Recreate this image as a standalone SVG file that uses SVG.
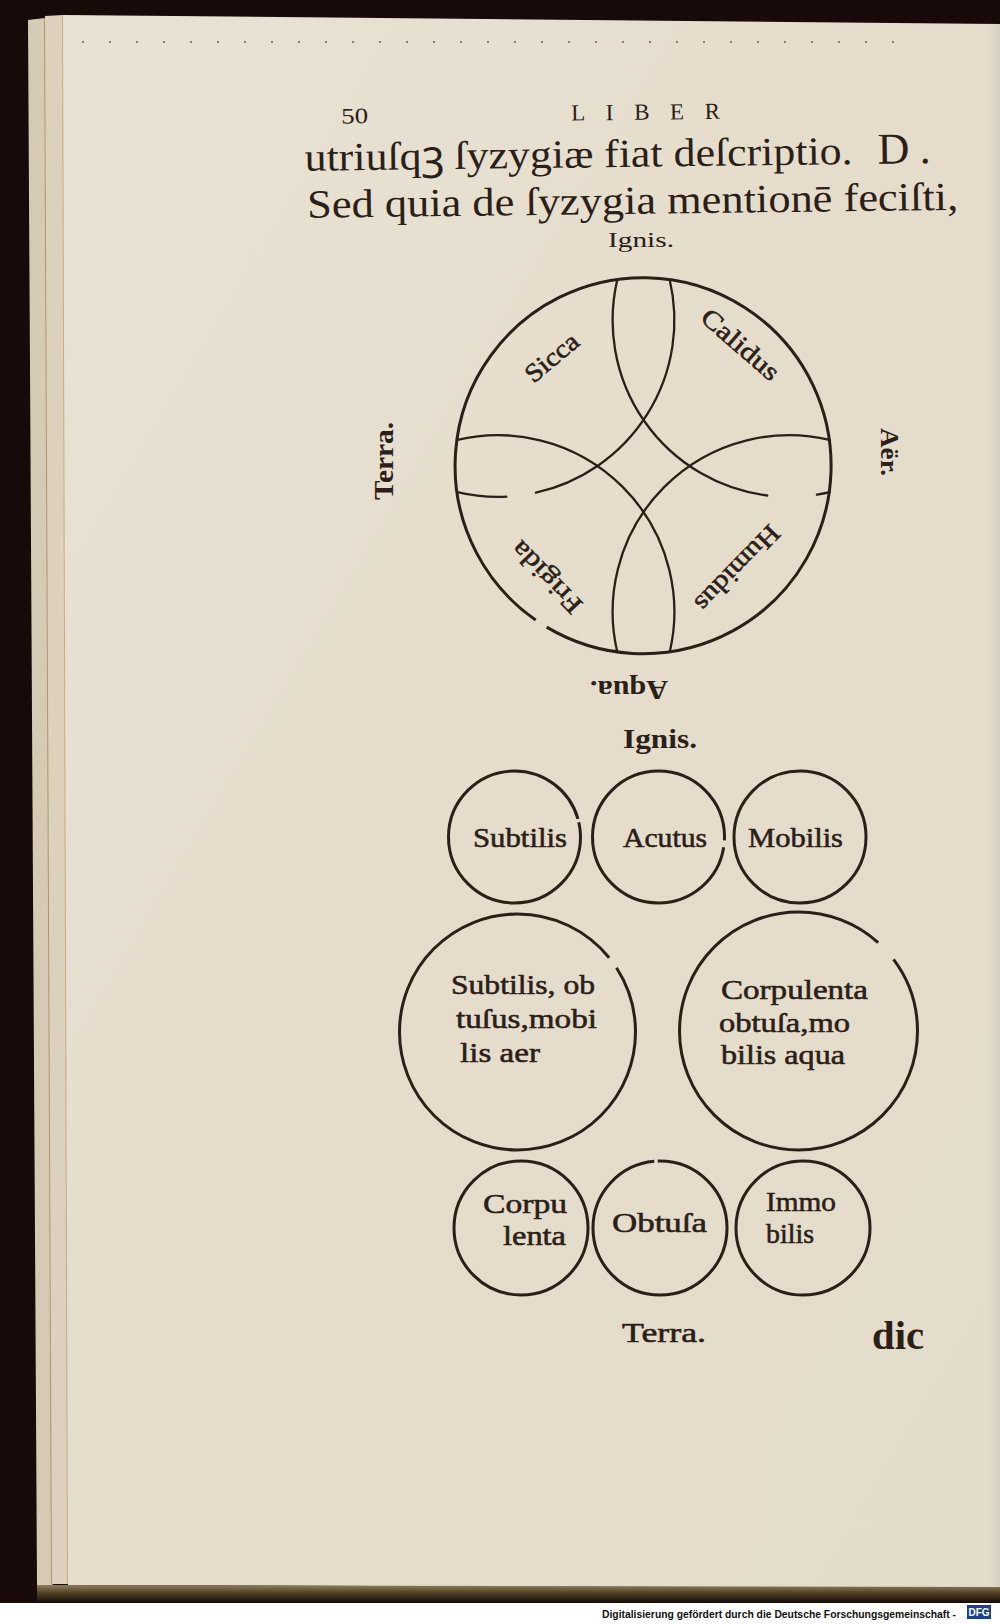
<svg xmlns="http://www.w3.org/2000/svg" width="1000" height="1624" viewBox="0 0 1000 1624">
<defs>
<linearGradient id="paper" x1="0" y1="0" x2="1" y2="1">
<stop offset="0" stop-color="#e9e2d3"/>
<stop offset="0.5" stop-color="#e5dccb"/>
<stop offset="1" stop-color="#e4dccb"/>
</linearGradient>
<linearGradient id="bottomEdge" x1="0" y1="0" x2="0" y2="1">
<stop offset="0" stop-color="#8f805c"/>
<stop offset="0.45" stop-color="#4d4024"/>
<stop offset="1" stop-color="#140906"/>
</linearGradient>
<linearGradient id="rightEdge" x1="0" y1="0" x2="1" y2="0">
<stop offset="0" stop-color="#e6ddcb" stop-opacity="0"/>
<stop offset="1" stop-color="#d4cfc3"/>
</linearGradient>
<style>
.ink{fill:none;stroke:#2a2017;stroke-width:3}
.arc{fill:none;stroke:#2a2017;stroke-width:2.3;stroke-linecap:round}
.t{font-family:"Liberation Serif","DejaVu Serif",serif;fill:#2a2017}
.lb{font-family:"Liberation Serif","DejaVu Serif",serif;fill:#2a2017;stroke:#2a2017;stroke-width:0.55}
.bd{font-weight:bold}
.foot{font-family:"Liberation Sans",Arial,sans-serif;font-weight:bold;fill:#111}
</style>
</defs>
<g id="page">
<rect width="1000" height="1624" fill="#180a08"/>
<polygon points="28,20 45,18 52,1586 37,1586" fill="#d5cbb5"/>
<line x1="45" y1="18" x2="52" y2="1585" stroke="#ab9674" stroke-width="2"/>
<polygon points="45,16 63,15 68,1584 52,1584" fill="#dbd1bc"/>
<line x1="63" y1="15" x2="68" y2="1584" stroke="#c2ad8c" stroke-width="2"/>
<polygon points="63,15 1000,24 1000,1588 68,1585" fill="url(#paper)"/>
<rect x="984" y="24" width="16" height="1564" fill="url(#rightEdge)"/>
<polygon points="37,1585 1000,1587 1000,1603 37,1603" fill="url(#bottomEdge)"/>
<line x1="82" y1="42" x2="895" y2="42" stroke="#8d7d6a" stroke-width="2" stroke-dasharray="2 25"/>
<rect x="0" y="1603" width="1000" height="21" fill="#ffffff"/>
<text class="foot" x="602" y="1618" font-size="10" textLength="354" lengthAdjust="spacingAndGlyphs">Digitalisierung gefördert durch die Deutsche Forschungsgemeinschaft -</text>
<rect x="967" y="1605" width="24" height="14" fill="#1c3f94"/>
<text class="foot" x="979" y="1616" font-size="10" style="fill:#ffffff" text-anchor="middle">DFG</text>
</g>
<g id="header" transform="rotate(-0.7 620 190)">
<text class="t" x="342" y="120" font-size="22" textLength="27" lengthAdjust="spacingAndGlyphs">50</text>
<text class="t" x="572" y="120" font-size="23" textLength="149">LIBER</text>
<text class="t" x="305" y="167" font-size="40" textLength="548" lengthAdjust="spacingAndGlyphs">utriuſqꝫ ſyzygiæ fiat deſcriptio.</text>
<text class="t" x="878" y="167" font-size="44" textLength="53">D.</text>
<text class="t" x="307" y="214" font-size="40" textLength="651" lengthAdjust="spacingAndGlyphs">Sed quia de ſyzygia mentionē feciſti,</text>
</g>
<g id="syzygia-circle">
<text class="t" x="608" y="247" font-size="21" textLength="66" lengthAdjust="spacingAndGlyphs">Ignis.</text>
<path class="ink" d="M 535.7 620 A 188 188 0 1 1 546.7 627.1"/>
<g id="connectors">
<path class="arc" d="M 617.3 279.8 A 176.7 176.7 0 0 0 767.2 495.5"/>
<path class="arc" d="M 816.9 494.7 A 176.7 176.7 0 0 0 829.7 492.2"/>
<path class="arc" d="M 669.7 279.8 A 176.7 176.7 0 0 1 535.9 492.7"/>
<path class="arc" d="M 506.3 496.7 A 176.7 176.7 0 0 1 457.3 492.2"/>
<path class="arc" d="M 669.7 652.2 A 176.7 176.7 0 0 0 457.3 439.8"/>
<path class="arc" d="M 617.3 652.2 A 176.7 176.7 0 0 1 829.7 439.8"/>
</g>
<text class="lb" transform="translate(552,358) rotate(-40)" x="0" y="8" font-size="26" text-anchor="middle" textLength="62" lengthAdjust="spacingAndGlyphs">Sicca</text>
<text class="lb" transform="translate(740,345) rotate(41)" x="0" y="8" font-size="26" text-anchor="middle" textLength="95" lengthAdjust="spacingAndGlyphs">Calidus</text>
<text class="lb" transform="translate(737,568) rotate(134)" x="0" y="8" font-size="26" text-anchor="middle" textLength="110" lengthAdjust="spacingAndGlyphs">Humidus</text>
<text class="lb" transform="translate(547,577) rotate(-134)" x="0" y="8" font-size="26" text-anchor="middle" textLength="90" lengthAdjust="spacingAndGlyphs">Frigida</text>
<text class="t bd" transform="translate(393,461) rotate(-90)" x="0" y="0" font-size="27" text-anchor="middle" textLength="78" lengthAdjust="spacingAndGlyphs">Terra.</text>
<text class="t bd" transform="translate(881,452) rotate(90)" x="0" y="0" font-size="26" text-anchor="middle" textLength="48" lengthAdjust="spacingAndGlyphs">Aër.</text>
<text class="t bd" transform="translate(629,681) rotate(180)" x="0" y="0" font-size="27" text-anchor="middle" textLength="78" lengthAdjust="spacingAndGlyphs">Aqua.</text>
</g>
<g id="elements">
<text class="t bd" x="623" y="748" font-size="28" textLength="74" lengthAdjust="spacingAndGlyphs">Ignis.</text>
<g id="subtilis">
<circle class="ink" cx="514.5" cy="837" r="66" pathLength="360" stroke-dasharray="344 3 13"/>
<text class="lb" x="473" y="847" font-size="28" textLength="94" lengthAdjust="spacingAndGlyphs">Subtilis</text>
</g>
<g id="acutus">
<circle class="ink" cx="658.5" cy="837" r="66" pathLength="360" stroke-dasharray="3 6 351"/>
<text class="lb" x="623" y="847" font-size="28" textLength="84" lengthAdjust="spacingAndGlyphs">Acutus</text>
</g>
<g id="mobilis">
<circle class="ink" cx="800" cy="837" r="66"/>
<text class="lb" x="748" y="847" font-size="28" textLength="95" lengthAdjust="spacingAndGlyphs">Mobilis</text>
</g>
<g id="aer">
<circle class="ink" cx="517.5" cy="1032" r="118" pathLength="360" stroke-dasharray="321 6 33"/>
<text class="lb" x="451" y="994" font-size="28" textLength="144" lengthAdjust="spacingAndGlyphs">Subtilis, ob</text>
<text class="lb" x="456" y="1028" font-size="28" textLength="141" lengthAdjust="spacingAndGlyphs">tuſus,mobi</text>
<text class="lb" x="460" y="1062" font-size="28" textLength="80" lengthAdjust="spacingAndGlyphs">lis aer</text>
</g>
<g id="aqua">
<circle class="ink" cx="798.5" cy="1031" r="119" pathLength="360" stroke-dasharray="312 11 37"/>
<text class="lb" x="721" y="999" font-size="28" textLength="147" lengthAdjust="spacingAndGlyphs">Corpulenta</text>
<text class="lb" x="719" y="1032" font-size="28" textLength="131" lengthAdjust="spacingAndGlyphs">obtuſa,mo</text>
<text class="lb" x="721" y="1064" font-size="28" textLength="124" lengthAdjust="spacingAndGlyphs">bilis aqua</text>
</g>
<g id="corpulenta">
<circle class="ink" cx="521" cy="1228" r="67"/>
<text class="lb" x="483" y="1213" font-size="28" textLength="84" lengthAdjust="spacingAndGlyphs">Corpu</text>
<text class="lb" x="503" y="1245" font-size="28" textLength="63" lengthAdjust="spacingAndGlyphs">lenta</text>
</g>
<g id="obtusa">
<circle class="ink" cx="660" cy="1228" r="67" pathLength="360" stroke-dasharray="265 3 92"/>
<text class="lb" x="612" y="1232" font-size="28" textLength="95" lengthAdjust="spacingAndGlyphs">Obtuſa</text>
</g>
<g id="immobilis">
<circle class="ink" cx="803" cy="1228" r="67"/>
<text class="lb" x="766" y="1211" font-size="28" textLength="70" lengthAdjust="spacingAndGlyphs">Immo</text>
<text class="lb" x="766" y="1243" font-size="28" textLength="48" lengthAdjust="spacingAndGlyphs">bilis</text>
</g>
<text class="lb" x="622" y="1342" font-size="28" textLength="84" lengthAdjust="spacingAndGlyphs">Terra.</text>
</g>
<text class="t bd" x="872" y="1349" font-size="40" textLength="52" lengthAdjust="spacingAndGlyphs">dic</text>
</svg>
